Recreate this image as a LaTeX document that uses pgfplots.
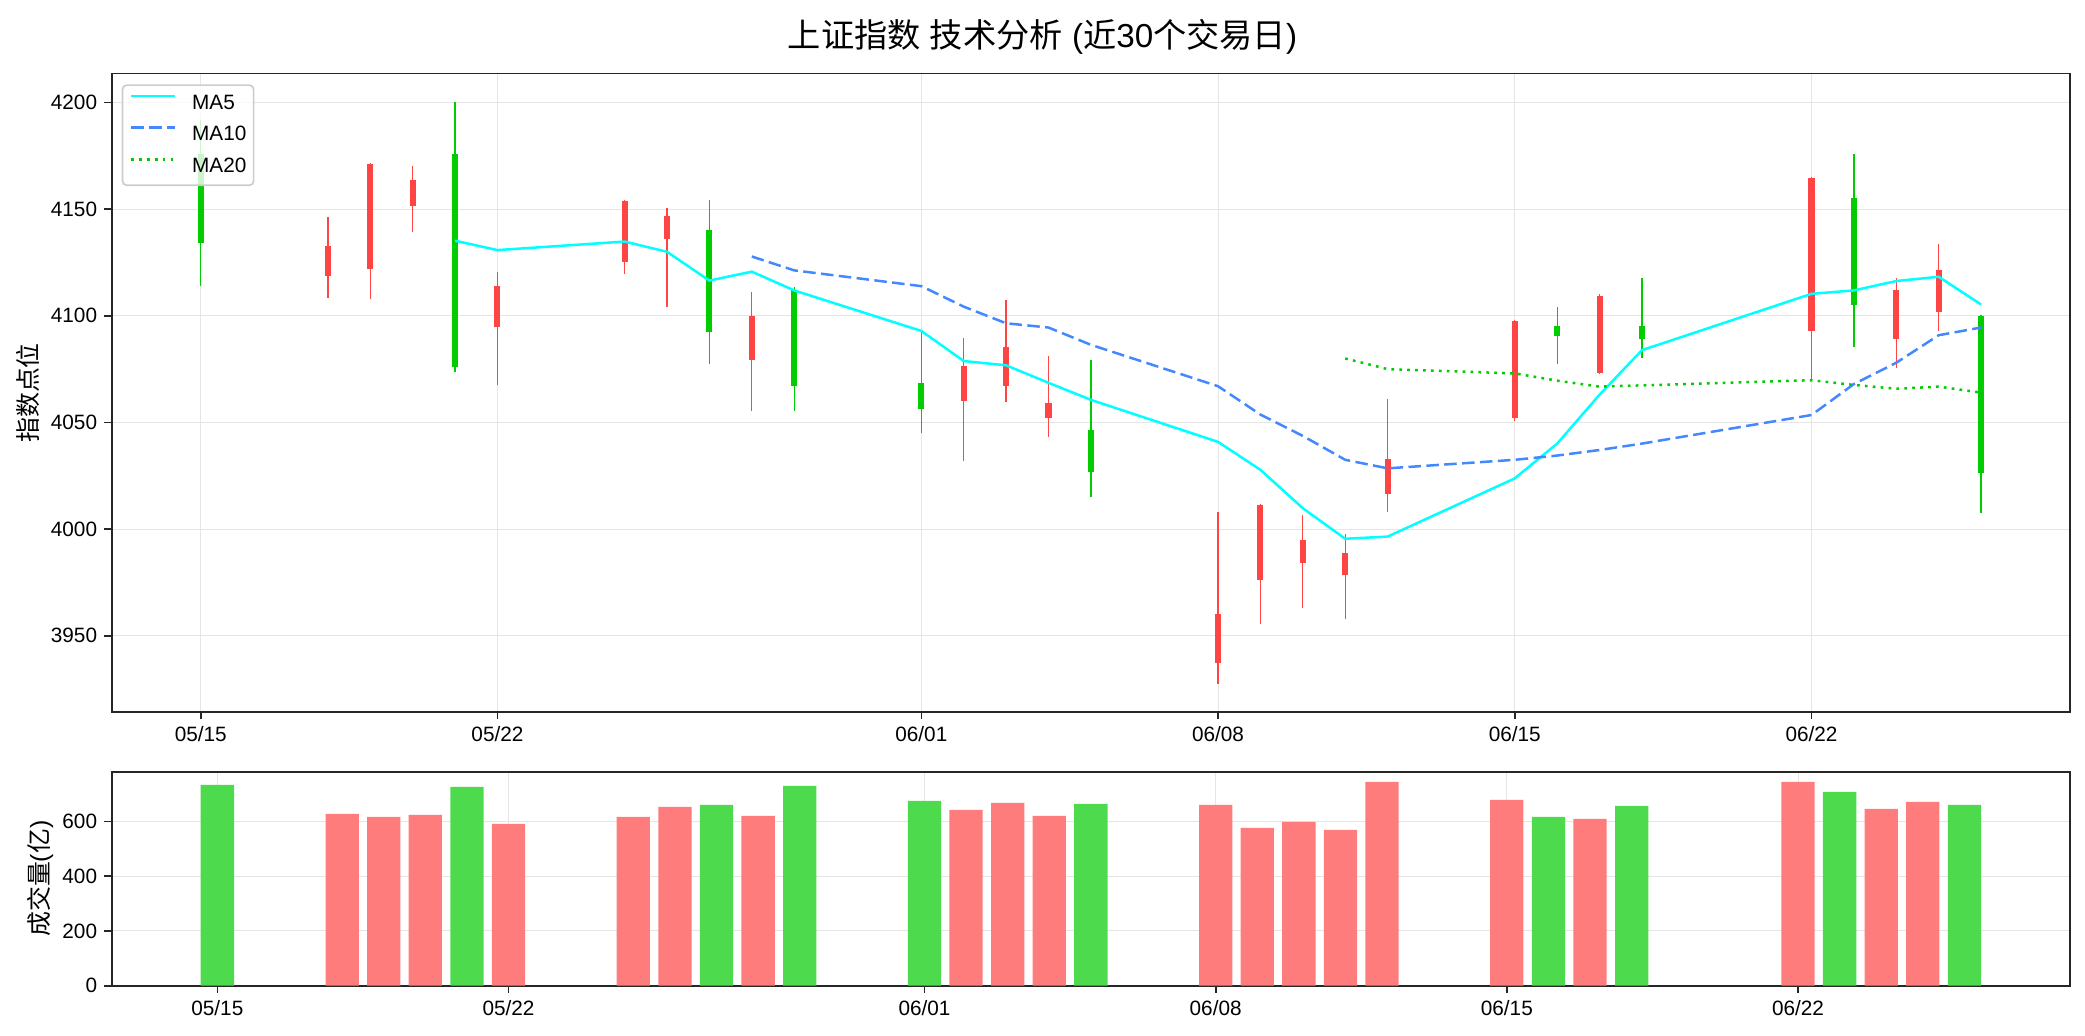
\documentclass[border=0pt]{standalone}
\usepackage{fontspec}
\setmainfont{Liberation Sans}
\newfontfamily\cjk{Noto Sans CJK SC}
\usepackage{pgfplots}
\usepackage{pgfplotstable}
\pgfplotsset{compat=1.18}

\definecolor{cred}{HTML}{FF4444}
\definecolor{cgreen}{HTML}{00CC00}
\definecolor{vred}{HTML}{FF7C7C}
\definecolor{vgreen}{HTML}{4DDB4D}
\definecolor{ma5c}{HTML}{00FFFF}
\definecolor{ma10c}{HTML}{4488FF}
\definecolor{ma20c}{HTML}{00CC00}

% x = day offset from 05/15 (calendar days)
\pgfplotstableread{
x  o       h       l       c
3  4118.9  4146.2  4108.3  4132.8
4  4121.8  4171.5  4107.7  4171.1
5  4151.6  4170.1  4139.4  4163.5
7  4094.9  4120.7  4067.6  4114.1
10 4125.0  4154.1  4119.5  4153.7
11 4136.2  4150.6  4104.1  4146.8
13 4079.4  4111.3  4055.5  4100.1
18 4060.0  4089.8  4032.1  4076.4
19 4067.0  4107.3  4059.7  4085.2
20 4052.1  4081.0  4043.3  4059.1
24 3937.4  4008.2  3927.5  3960.4
25 3976.1  4011.6  3955.6  4011.4
26 3984.1  4006.6  3963.2  3994.7
27 3978.3  3997.8  3958.0  3988.7
28 4016.6  4060.8  4008.2  4032.9
31 4052.1  4097.9  4050.9  4097.7
33 4073.0  4110.1  4072.8  4109.5
38 4092.7  4164.9  4070.0  4164.7
40 4089.0  4117.9  4075.4  4112.3
41 4101.9  4133.6  4092.7  4121.6
}\candleRed

\pgfplotstableread{
x  o       h       l       c
0  4175.7  4192.0  4113.9  4134.2
6  4175.7  4200.0  4073.6  4076.0
12 4140.2  4154.1  4077.4  4092.3
14 4111.9  4113.5  4055.5  4067.0
17 4068.4  4092.5  4045.3  4056.5
21 4046.5  4079.4  4015.0  4026.6
32 4095.3  4104.3  4077.4  4090.6
34 4095.3  4117.9  4080.4  4089.0
39 4155.1  4175.7  4085.4  4104.9
42 4100.1  4100.3  4007.6  4026.2
}\candleGreen

\pgfplotstableread{
x  v
6  4135.2
7  4130.8
10 4134.8
11 4130.0
12 4116.5
13 4120.7
14 4111.9
17 4092.9
18 4078.8
19 4076.8
20 4068.6
21 4060.6
24 4040.9
25 4027.8
26 4009.8
27 3995.5
28 3996.5
31 4023.8
32 4040.1
33 4063.0
34 4083.9
38 4110.3
39 4111.9
40 4116.3
41 4118.3
42 4105.3
}\maFive

\pgfplotstableread{
x  v
13 4127.8
14 4121.3
17 4113.9
18 4104.3
19 4096.5
20 4094.5
21 4086.4
24 4067.0
25 4053.7
26 4043.7
27 4032.5
28 4028.5
31 4032.5
32 4034.5
33 4037.1
34 4040.1
38 4053.5
39 4068.0
40 4078.0
41 4090.9
42 4094.5
}\maTen

\pgfplotstableread{
x  v
27 4080.0
28 4075.0
31 4073.0
32 4069.6
33 4066.8
34 4067.4
38 4069.8
39 4067.6
40 4065.8
41 4066.8
42 4064.0
}\maTwenty

\pgfplotstableread{
x  v
3  628
4  617
5  624
7  591.5
10 617
11 653.7
13 620.7
18 642.7
19 668.3
20 620.7
24 661
25 576.8
26 598.8
27 569.5
28 745
31 679.3
33 609.8
38 745
40 646.3
41 672
}\volRed

\pgfplotstableread{
x  v
0  734
6  727
12 661
14 730.5
17 675.6
21 664.6
32 617
34 657.3
39 708.5
42 661
}\volGreen

\pgfplotsset{
  common/.style={
    scale only axis, width=940bp,
    axis line style={line width=0.8bp, draw=black!85},
    tick align=outside, major tick length=3.5bp,
    every tick/.style={line width=0.8bp, draw=black!85},
    tick pos=left,
    grid=major,
    major grid style={line width=0.5bp, draw=black!10},
    tick label style={font=\fontsize{10}{12}\selectfont, black},
    /pgf/number format/assume math mode=true,
    /pgf/number format/1000 sep={},
    xtick={0,7,17,24,31,38},
    xticklabels={05/15,05/22,06/01,06/08,06/15,06/22},
  },
  wick/.style={draw=none, mark=none, forget plot,
    error bars/.cd, y dir=both, y explicit, error mark=none,
    error bar style={line width=0.62bp, draw=#1, solid}},
  body/.style={draw=none, mark=none, forget plot,
    error bars/.cd, y dir=both, y explicit, error mark=none,
    error bar style={line width=2.9bp, draw=#1, solid}},
}

\begin{document}
\begin{tikzpicture}
\useasboundingbox (0,0) rectangle (1000.8bp,497.28bp);

\node[font=\fontsize{16}{19}\selectfont, anchor=center] at (500.4bp,479.8bp)
  {{\cjk 上证指数}\ {\cjk 技术分析}\ ({\cjk 近}30{\cjk 个交易日})};

\begin{axis}[common,
  at={(53.62bp,155.42bp)}, anchor=south west,
  height=306.5bp,
  xmin=-2.1, xmax=44.1, ymin=3914.2, ymax=4213.5,
  ytick={3950,4000,4050,4100,4150,4200},
  ylabel={\cjk 指数点位},
  every axis y label/.style={at={([xshift=-40.2bp]axis description cs:0,0.5)},
    rotate=90, anchor=center, font=\fontsize{12}{14}\selectfont},
  legend style={at={(0,1)}, anchor=north west, xshift=4.8bp, yshift=-5.1bp,
    draw=black!20, line width=0.8bp, rounded corners=2bp,
    fill=white, fill opacity=0.8, text opacity=1, draw opacity=1,
    font=\fontsize{10}{12}\selectfont,
    inner xsep=3.5bp, inner ysep=4.6bp, row sep=6.8bp, column sep=7.7bp,
    nodes={inner sep=0pt}, cells={anchor=west}},
  legend image code/.code={\draw[#1] (0bp,3.6bp) -- (21bp,3.6bp);},
]
\addplot[wick=cred] table[x=x, y expr=(\thisrow{h}+\thisrow{l})/2, y error expr=(\thisrow{h}-\thisrow{l})/2] {\candleRed};
\addplot[wick=cgreen] table[x=x, y expr=(\thisrow{h}+\thisrow{l})/2, y error expr=(\thisrow{h}-\thisrow{l})/2] {\candleGreen};
\addplot[body=cred] table[x=x, y expr=(\thisrow{o}+\thisrow{c})/2, y error expr=abs(\thisrow{c}-\thisrow{o})/2] {\candleRed};
\addplot[body=cgreen] table[x=x, y expr=(\thisrow{o}+\thisrow{c})/2, y error expr=abs(\thisrow{c}-\thisrow{o})/2] {\candleGreen};

\addplot[ma5c, line width=1.2bp] table[x=x, y=v] {\maFive};
\addlegendentry{MA5}
\addplot[ma10c, line width=1.2bp, dash pattern=on 6bp off 2.6bp] table[x=x, y=v] {\maTen};
\addlegendentry{MA10}
\addplot[ma20c, line width=1.2bp, dash pattern=on 1.3bp off 2.5bp] table[x=x, y=v] {\maTwenty};
\addlegendentry{MA20}
\end{axis}

\begin{axis}[common,
  at={(53.62bp,24.14bp)}, anchor=south west,
  height=102.72bp,
  xmin=-2.54, xmax=44.54, ymin=0, ymax=782,
  ytick={0,200,400,600},
  ylabel={{\cjk 成交量}({\cjk 亿})},
  every axis y label/.style={at={([xshift=-34.4bp]axis description cs:0,0.5)},
    rotate=90, anchor=center, font=\fontsize{12}{14}\selectfont},
]
\addplot[ybar, bar width=0.8, bar shift=0pt, fill=vred, draw=none] table[x=x, y=v] {\volRed};
\addplot[ybar, bar width=0.8, bar shift=0pt, fill=vgreen, draw=none] table[x=x, y=v] {\volGreen};
\end{axis}
\end{tikzpicture}
\end{document}
